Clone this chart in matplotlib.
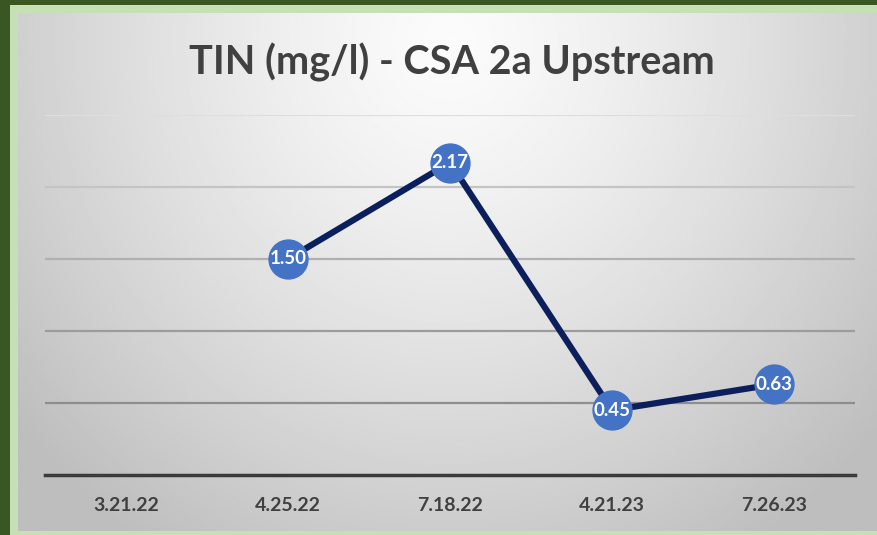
"""
TIN (mg/l) - CSA 2a Upstream 折线图
"""
import numpy as np
import matplotlib
matplotlib.use("Agg")
import matplotlib.pyplot as plt
from matplotlib.patches import Rectangle

# 数据
dates = ["3.21.22", "4.25.22", "7.18.22", "4.21.23", "7.26.23"]
tin_values = [np.nan, 1.50, 2.17, 0.45, 0.63]
y_ticks = [0.5, 1.0, 1.5, 2.0, 2.5]
title = "TIN (mg/l) - CSA 2a Upstream"

W, H = 878, 535
fig = plt.figure(figsize=(W / 100, H / 100), dpi=100)
fig.patch.set_facecolor("#385723")

# 浅绿色边框
fig.patches.append(Rectangle((10 / W, 0), 1, (H - 5) / H, transform=fig.transFigure,
                             facecolor="#c5e0b4", edgecolor="none", zorder=0))

# 灰色渐变背景
bg = fig.add_axes([18 / W, 4 / H, (W - 18) / W, 518 / H], zorder=1)
gx, gy = np.meshgrid(np.linspace(18, W, 400), np.linspace(13, 531, 300))
d = np.sqrt(((gx - 450) / 560) ** 2 + ((gy - 40) / 600) ** 2)
shade = 0.985 - 0.24 * np.clip(d, 0, 1) ** 1.3
bg.imshow(shade, cmap="gray", vmin=0, vmax=1, aspect="auto",
          extent=[0, 1, 0, 1], origin="upper", interpolation="bilinear")
bg.axis("off")

# 主坐标轴
ax = fig.add_axes([45 / W, 1 - 475 / H, 810 / W, 360 / H], zorder=2)
ax.patch.set_alpha(0)
x = np.arange(len(dates))
ax.plot(x, tin_values, color="#0b1f5c", linewidth=4.5, zorder=3,
        marker="o", markersize=28, markerfacecolor="#4472c4",
        markeredgecolor="#4472c4", solid_capstyle="round")
for xi, v in zip(x, tin_values):
    if np.isnan(v):
        continue
    ax.text(xi, v, f"{v:.2f}", ha="center", va="center", color="white",
            fontsize=13.5, fontweight="bold", family=["Lato", "DejaVu Sans"], zorder=4)

ax.set_xlim(-0.5, len(dates) - 0.5)
ax.set_ylim(0, 2.5)
ax.set_yticks(y_ticks)
ax.set_xticks(x)
ax.set_xticklabels(dates, fontsize=14, fontweight="bold", color="#404040",
                   family=["Lato", "DejaVu Sans"])
ax.tick_params(axis="x", length=0, pad=16)
ax.tick_params(axis="y", length=0, labelleft=False)
for s in ["top", "right", "left"]:
    ax.spines[s].set_visible(False)
ax.spines["bottom"].set_color("#3a3a3a")
ax.spines["bottom"].set_linewidth(2.5)

grid_colors = ["#8e8e8e", "#9c9c9c", "#b0b0b0", "#c4c4c4", "#dedede"]
for yv, c in zip(y_ticks, grid_colors):
    ax.axhline(yv, color=c, linewidth=1.6, zorder=1)

fig.text(452 / W, 1 - 62 / H, title, ha="center", va="center", fontsize=28.5,
         fontweight="bold", color="#404040", family=["Lato", "DejaVu Sans"])

plt.savefig("out.png", dpi=100)
plt.close()
